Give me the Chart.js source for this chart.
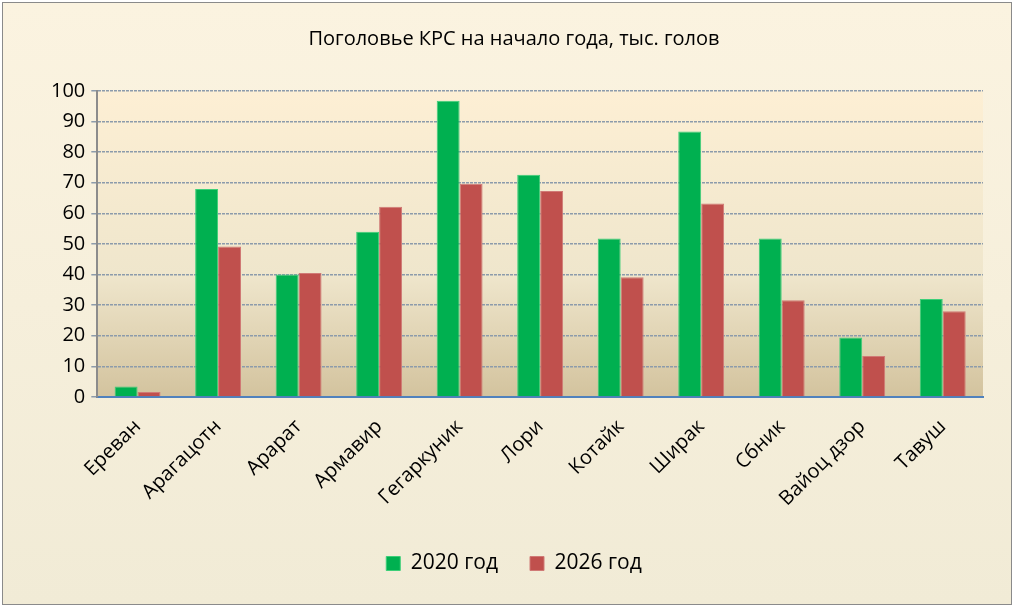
<!DOCTYPE html>
<html><head><meta charset="utf-8">
<script src="https://cdn.jsdelivr.net/npm/chart.js@4"></script>
<style>html,body{margin:0;padding:0;background:#fff}
#w{position:absolute;left:2px;top:2px;width:1008px;height:601px;border:1px solid #8a8a8a;background:linear-gradient(#fbf3e0,#f1ebd6)}
</style></head><body>
<div id="w"><canvas id="c" width="1008" height="601"></canvas></div>
<script>
const categories=["Ереван","Арагацотн","Арарат","Армавир","Гегаркуник","Лори","Котайк","Ширак","Сбник","Вайоц дзор","Тавуш"];
const values2020=[3.4,68,40,54,96.8,72.6,51.8,86.8,51.8,19.4,32];
const values2026=[1.6,49.2,40.5,62.2,69.7,67.3,39.1,63.2,31.6,13.4,28];
const yTicks=[0,10,20,30,40,50,60,70,80,90,100];
const bgPlugin={id:'bg',beforeDraw(ch){const a=ch.chartArea,c=ch.ctx;const g=c.createLinearGradient(0,a.top,0,a.bottom);g.addColorStop(0,'#fdefd4');g.addColorStop(0.6,'#efe6cc');g.addColorStop(1,'#d3c39e');c.save();c.fillStyle=g;c.fillRect(a.left,a.top,a.right-a.left,a.bottom-a.top);c.restore();}};
const F='"Open Sans", Calibri, sans-serif';
new Chart(document.getElementById('c'),{type:'bar',
data:{labels:categories,datasets:[
{label:'2020 год',data:values2020,backgroundColor:'#00b050',borderColor:'#3ccf78',borderWidth:1,categoryPercentage:0.57,barPercentage:1},
{label:'2026 год',data:values2026,backgroundColor:'#c0504d',borderColor:'#d07a76',borderWidth:1,categoryPercentage:0.57,barPercentage:1}]},
options:{responsive:false,animation:false,
layout:{padding:{left:42,right:28,top:10,bottom:20}},
plugins:{title:{display:true,text:'Поголовье КРС на начало года, тыс. голов',color:'#000',font:{family:F,size:20,weight:'normal'},padding:{top:14,bottom:40}},
legend:{position:'bottom',labels:{color:'#000',font:{family:F,size:21},boxWidth:14,boxHeight:14,padding:32}},tooltip:{enabled:false}},
scales:{x:{grid:{display:false,drawTicks:true},border:{color:'#4f81bd',width:2},ticks:{color:'#000',font:{family:F,size:20},maxRotation:45,minRotation:45,padding:10}},
y:{min:0,max:100,afterBuildTicks:s=>{s.ticks=yTicks.map(v=>({value:v}));},grid:{color:'#8c9bab',lineWidth:1.5,tickLength:6,drawTicks:true},border:{color:'#8c8c8c',width:2,dash:[3,1]},ticks:{color:'#000',font:{family:F,size:20},padding:6}}}},
plugins:[bgPlugin]});
</script></body></html>
